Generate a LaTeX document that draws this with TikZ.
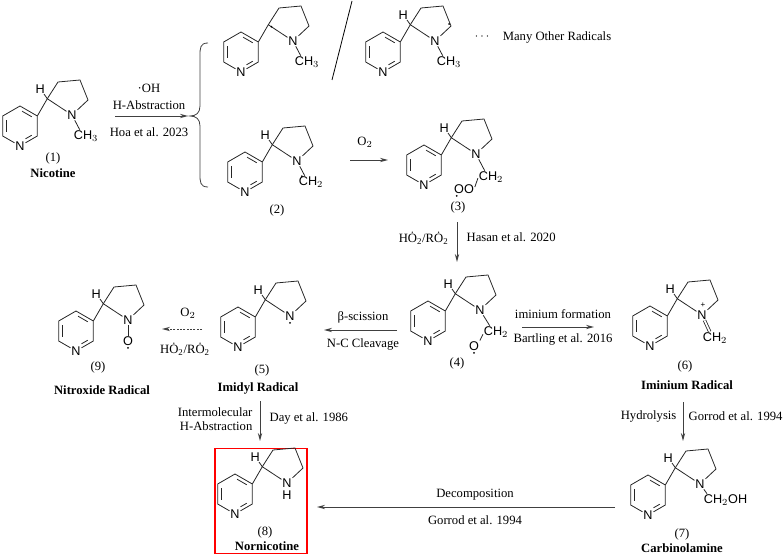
\documentclass[tikz,border=0pt]{standalone}
\usepackage{fontspec}
\setmainfont{Liberation Serif}
\newfontfamily\atomfont{Liberation Sans}
\usetikzlibrary{calc,arrows.meta}
\tikzset{
 bond/.style={line width=0.6pt,black!85},
 atom/.style={inner sep=0.5pt,font=\atomfont\fontsize{9.5}{10}\selectfont},
 lbl/.style={inner sep=1pt,font=\fontsize{9.5}{10}\selectfont},
 blbl/.style={inner sep=1pt,font=\bfseries\fontsize{9.5}{10}\selectfont},
 arr/.style={line width=0.7pt,black!75,-{Stealth[length=6pt,width=3.2pt]}},
}
\newcommand\mymol[3]{%
\begin{scope}[shift={(#2,#3)}]
 \coordinate (#1-t) at (0,-20);
 \coordinate (#1-ur) at (17.32,-10);
 \coordinate (#1-lr) at (17.32,10);
 \coordinate (#1-ll) at (-17.32,10);
 \coordinate (#1-ul) at (-17.32,-10);
 \node[atom] (#1-pn) at (0,20) {N};
 \draw[bond] (#1-pn)--(#1-ll)--(#1-ul)--(#1-t)--(#1-ur)--(#1-lr)--(#1-pn);
 \draw[bond] (-13.9,-5.6)--(-13.9,5.6);
 \draw[bond] (2.1,-14.8)--(11.8,-9.2);
 \draw[bond] (11.8,9.2)--(5.5,12.8);
 \coordinate (#1-c2) at (27.3,-27.3);
 \coordinate (#1-c3) at (38,-44);
 \coordinate (#1-c4) at (60,-46);
 \coordinate (#1-c5) at (68,-26);
 \node[atom] (#1-n) at (52,-11) {N};
 \draw[bond] (#1-ur)--(#1-c2)--(#1-c3)--(#1-c4)--(#1-c5)--(#1-n)--(#1-c2);
\end{scope}}
\newcommand\myH[1]{\node[atom] (#1-h) at ($(#1-c2)+(-7,-10)$) {H};
 \draw[bond] (#1-c2)--(#1-h);}
\begin{document}
\begin{tikzpicture}[x=0.75pt,y=-0.75pt]
\useasboundingbox (0,0) rectangle (784,556);
% (1) nicotine
\mymol{m1}{20}{126}\myH{m1}
\node[atom] (m1-ch) at ($(m1-n)+(14,21)$) {CH$_3$};
\draw[bond] (m1-n)--(m1-ch.135);
\node[lbl] (l1) at (53,158) {(1)};
\node[blbl] (n1) at (53,173) {Nicotine};
% arrow 1
\coordinate (a1s) at (115,116); \coordinate (a1e) at (188,116);
\draw[arr] (a1s)--(a1e);
\node[lbl] (t1a) at (149,88) {·OH};
\node[lbl] (t1b) at (149,105) {H-Abstraction};
\node[lbl] (t1c) at (149,132) {Hoa et al. 2023};
% brace
\coordinate (bt) at (208,43); \coordinate (bm) at (190,116); \coordinate (bb) at (208,187);
\draw[line width=0.6pt,black!75] (bt) .. controls (200,43) and (200,48) .. (200,56) -- (200,106) .. controls (200,113) and (196,116) .. (bm) .. controls (196,116) and (200,119) .. (200,126) -- (200,174) .. controls (200,182) and (200,187) .. (bb);
% top A
\mymol{ma}{241}{52}
\fill (ma-c2) ++(3,2) circle (1);
\node[atom] (ma-ch) at ($(ma-n)+(14,21)$) {CH$_3$};
\draw[bond] (ma-n)--(ma-ch.135);
% slash
\coordinate (s1) at (352,1); \coordinate (s2) at (332,80);
\draw[line width=0.6pt] (s1)--(s2);
% top B
\mymol{mb}{383}{52}\myH{mb}
\fill (mb-c5) ++(-2,-2) circle (1);
\node[atom] (mb-ch) at ($(mb-n)+(14,21)$) {CH$_3$};
\draw[bond] (mb-n)--(mb-ch.135);
\node[lbl] (dots) at (482,37) {$\cdots$};
\node[lbl] (many) at (557,37) {Many Other Radicals};
% (2)
\mymol{m2}{245}{172}\myH{m2}
\node[atom] (m2-ch) at ($(m2-n)+(14,21)$) {CH$_2$};
\draw[bond] (m2-n)--(m2-ch.135);
\fill ($(m2-ch.north west)+(4,0.5)$) circle (1);
\node[lbl] (l2) at (277,210) {(2)};
% O2 arrow
\coordinate (a2s) at (350,160); \coordinate (a2e) at (388,160);
\draw[arr] (a2s)--(a2e);
\node[lbl] (t2) at (365,142) {O$_2$};
% (3)
\mymol{m3}{424}{165}\myH{m3}
\node[atom] (m3-ch) at ($(m3-n)+(15,23)$) {CH$_2$};
\draw[bond] (m3-n)--(m3-ch.135);
\node[atom] (m3-oo) at ($(m3-n)+(-12,35)$) {OO};
\draw[bond] (m3-oo.10)--(m3-ch.185);
\fill ($(m3-oo.south west)+(3.5,1.5)$) circle (1);
\node[lbl] (l3) at (458,207) {(3)};
% Hasan arrow
\coordinate (a3s) at (457,222); \coordinate (a3e) at (457,262);
\draw[arr] (a3s)--(a3e);
\node[lbl,anchor=east] (t3a) at (450,238) {H\.{O}\textsubscript{2}/R\.{O}\textsubscript{2}};
\node[lbl,anchor=west] (t3b) at (465,237) {Hasan et al. 2020};
% (4)
\mymol{m4}{428}{321}\myH{m4}
\node[atom] (m4-ch) at ($(m4-n)+(16,22)$) {CH$_2$};
\draw[bond] (m4-n)--(m4-ch.135);
\node[atom] (m4-o) at ($(m4-n)+(-6,36)$) {O};
\draw[bond] (m4-o.north east)--(m4-ch.190);
\fill ($(m4-o.south)+(0,1.5)$) circle (1);
\node[lbl] (l4) at (457,363) {(4)};
% iminium arrow
\coordinate (a4s) at (522,327); \coordinate (a4e) at (594,327);
\draw[arr] (a4s)--(a4e);
\node[lbl] (t4a) at (563,314) {iminium formation};
\node[lbl] (t4b) at (563,339) {Bartling et al. 2016};
% (6)
\mymol{m6}{650}{326}\myH{m6}
\node[atom] (m6-ch) at ($(m6-n)+(13,23)$) {CH$_2$};
\draw[bond,double,double distance=1.3pt] (m6-n)--(m6-ch.130);
\node[atom,font=\atomfont\fontsize{6}{6}\selectfont] (m6-p) at ($(m6-n)+(1,-10)$) {+};
\node[lbl] (l6) at (685,366) {(6)};
\node[blbl] (n6) at (687,385) {Iminium Radical};
% beta arrow
\coordinate (a5s) at (397,330); \coordinate (a5e) at (324,330);
\draw[arr] (a5s)--(a5e);
\node[lbl] (t5a) at (363,317) {β-scission};
\node[lbl] (t5b) at (363,344) {N-C Cleavage};
% (5)
\mymol{m5}{238}{327}\myH{m5}
\fill ($(m5-n.south)+(0,1.5)$) circle (1);
\node[lbl] (l5) at (262,370) {(5)};
\node[blbl] (n5) at (258,388) {Imidyl Radical};
% dashed arrow
\coordinate (a6s) at (202,329); \coordinate (a6e) at (162,329);
\draw[arr,dash pattern=on 1.5pt off 1pt] (a6s)--(a6e);
\node[lbl] (t6a) at (188,313) {O$_2$};
\node[lbl] (t6b) at (185,349) {H\.{O}\textsubscript{2}/R\.{O}\textsubscript{2}};
% (9)
\mymol{m9}{76}{331}\myH{m9}
\node[atom] (m9-o) at ($(m9-n)+(0,21)$) {O};
\draw[bond] (m9-n)--(m9-o);
\fill ($(m9-o.south)+(0,1.5)$) circle (1);
\node[lbl] (l9) at (98,367) {(9)};
\node[blbl] (n9) at (102,390) {Nitroxide Radical};
% Day arrow
\coordinate (a7s) at (260,401); \coordinate (a7e) at (260,441);
\draw[arr] (a7s)--(a7e);
\node[lbl,anchor=east] (t7a) at (254,412) {Intermolecular};
\node[lbl,anchor=east] (t7b) at (254,426) {H-Abstraction};
\node[lbl,anchor=west] (t7c) at (268,418) {Day et al. 1986};
% (8)
\node[draw=red,line width=1.1pt,minimum width=69pt,minimum height=79pt,inner sep=0] (box) at (261,501) {};
\mymol{m8}{235}{494}\myH{m8}
\node[atom] (m8-nh) at ($(m8-n)+(0,12)$) {H};
\node[lbl] (l8) at (265,532) {(8)};
\node[blbl] (n8) at (267,546) {Nornicotine};
% hydrolysis arrow
\coordinate (a8s) at (683,402); \coordinate (a8e) at (683,441);
\draw[arr] (a8s)--(a8e);
\node[lbl,anchor=east] (t8a) at (678,416) {Hydrolysis};
\node[lbl,anchor=west] (t8b) at (687,416) {Gorrod et al. 1994};
% (7)
\mymol{m7}{648}{495}\myH{m7}
\node[atom,anchor=west] (m7-ch) at ($(m7-n)+(3,16)$) {CH$_2$OH};
\draw[bond] (m7-n)--($(m7-ch.north west)+(4,0)$);
\node[lbl] (l7) at (682,534) {(7)};
\node[blbl] (n7) at (682,548) {Carbinolamine};
% decomposition arrow
\coordinate (a9s) at (615,507); \coordinate (a9e) at (317,507);
\draw[arr] (a9s)--(a9e);
\node[lbl] (t9a) at (475,495) {Decomposition};
\node[lbl] (t9b) at (475,520) {Gorrod et al. 1994};
\end{tikzpicture}
\end{document}
